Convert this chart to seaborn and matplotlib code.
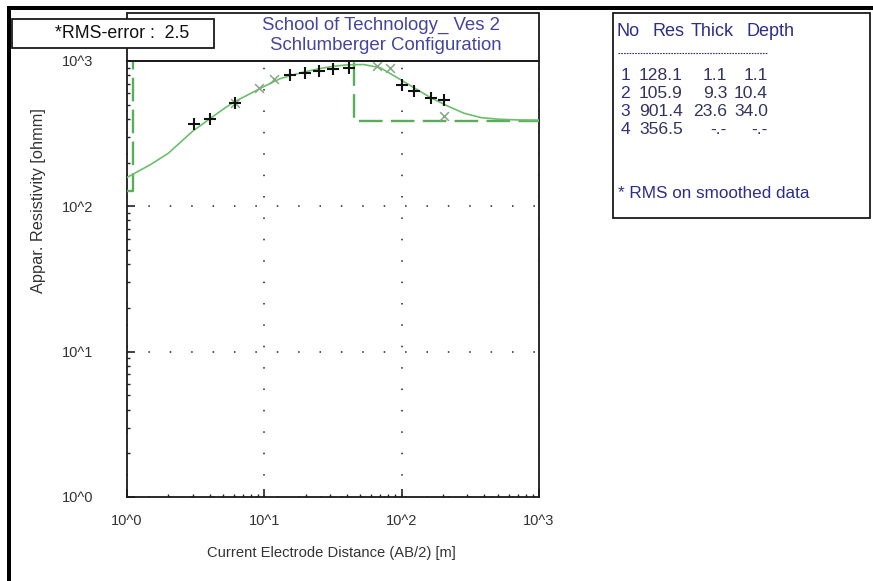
import numpy as np
import pandas as pd
import matplotlib
matplotlib.use("Agg")
import matplotlib.pyplot as plt
import seaborn as sns
from matplotlib import font_manager as fm
from matplotlib.patches import Rectangle
from matplotlib.lines import Line2D

# ---------------- data ----------------
curve_ab2 = [1.0, 1.5, 2.0, 3.0, 4.0, 5.0, 6.0, 8.0, 10, 13, 16, 20, 25, 32, 40, 53,
             70, 93, 123, 163, 216, 285, 377, 500, 700, 1000]
curve_rho = [158, 195, 232, 328, 400, 465, 522, 600, 670, 755, 800, 845, 885, 920, 940, 946,
             898, 767, 655, 559, 490, 437, 408, 398, 393, 392]

obs_ab2 = [3.05, 4.04, 6.14, 15.3, 19.9, 25.2, 31.5, 41.2, 100, 123, 163, 204]
obs_rho = [367, 397, 517, 797, 830, 853, 876, 898, 680, 621, 559, 537]

smooth_ab2 = [6.1, 9.1, 11.7, 66.4, 82.2, 204]
smooth_rho = [510, 655, 755, 923, 898, 419]

# block model as displayed (middle layer off-scale)
model_top = [1.0, 1.1, 45.0, 1000.0]
model_res = [128.1, 2000.0, 385.0, 385.0]

layer_no = ["1", "2", "3", "4"]
layer_res = ["128.1", "105.9", "901.4", "356.5"]
layer_thick = ["1.1", "9.3", "23.6", "-.-"]
layer_depth = ["1.1", "10.4", "34.0", "-.-"]

x_ticks = [1, 10, 100, 1000]
x_ticklabels = ["10^0", "10^1", "10^2", "10^3"]
y_ticks = [1, 10, 100, 1000]
y_ticklabels = ["10^0", "10^1", "10^2", "10^3"]

title1 = "School of Technology_ Ves 2"
title2 = "Schlumberger Configuration"
rms_text = "*RMS-error :  2.5"
xlabel = "Current Electrode Distance (AB/2) [m]"
ylabel = "Appar. Resistivity [ohmm]"
table_header = ["No", "Res", "Thick", "Depth"]
table_note = "* RMS on smoothed data"

# ---------------- fonts ----------------
def has_font(name):
    try:
        fm.findfont(fm.FontProperties(family=name), fallback_to_default=False)
        return True
    except Exception:
        return False

sns.set_theme(style="white")
if has_font("Liberation Sans Narrow"):
    FN, SC = "Liberation Sans Narrow", 1.0
else:
    FN, SC = "Liberation Sans", 0.84
FR = "Liberation Sans"
plt.rcParams["font.family"] = [FN, "DejaVu Sans"]

W, H = 873, 581
fig = plt.figure(figsize=(W / 100, H / 100), dpi=100, facecolor="white")


def fx(x):
    return x / W


def fy(y):
    return 1 - y / H


AX_L, AX_R, AX_T, AX_B = 127, 539, 61, 497
ax = fig.add_axes([fx(AX_L), fy(AX_B), (AX_R - AX_L) / W, (AX_B - AX_T) / H])
ax.set_facecolor("white")
ax.set_xscale("log")
ax.set_yscale("log")

df_curve = pd.DataFrame({"ab2": curve_ab2, "rho": curve_rho})
df_model = pd.DataFrame({"ab2": model_top, "rho": model_res})
df_obs = pd.DataFrame({"ab2": obs_ab2, "rho": obs_rho})
df_smooth = pd.DataFrame({"ab2": smooth_ab2, "rho": smooth_rho})

sns.lineplot(data=df_model, x="ab2", y="rho", ax=ax, color="#5aae5a", lw=1.7,
             drawstyle="steps-post", linestyle=(0, (10, 3.5)), sort=False, zorder=3)
sns.lineplot(data=df_curve, x="ab2", y="rho", ax=ax, color="#6cbf6c", lw=1.2,
             sort=False, zorder=4)
sns.scatterplot(data=df_smooth, x="ab2", y="rho", ax=ax, marker="x", s=40,
                color="#86a886", linewidth=1.1, zorder=5)
sns.scatterplot(data=df_obs, x="ab2", y="rho", ax=ax, marker="+", s=85,
                color="#111111", linewidth=1.5, zorder=6)

ax.set_xlim(1, 1000)
ax.set_ylim(1, 1000)
ax.set_xticks(x_ticks)
ax.set_xticklabels(x_ticklabels)
ax.set_yticks(y_ticks)
ax.set_yticklabels(y_ticklabels)
ax.xaxis.set_minor_locator(matplotlib.ticker.LogLocator(base=10, subs=np.arange(2, 10)))
ax.yaxis.set_minor_locator(matplotlib.ticker.LogLocator(base=10, subs=np.arange(2, 10)))
ax.xaxis.set_minor_formatter(matplotlib.ticker.NullFormatter())
ax.yaxis.set_minor_formatter(matplotlib.ticker.NullFormatter())

ax.tick_params(which="major", direction="in", length=6, width=1.2, color="#222222",
               labelsize=12.5 * SC, labelcolor="#333333", bottom=True, left=True,
               top=False, right=False)
ax.tick_params(axis="y", which="major", pad=24)
ax.tick_params(axis="x", which="major", pad=12)
ax.tick_params(which="minor", direction="in", length=2.5, width=1.0, color="#222222",
               bottom=True, left=True, top=False, right=False)

ax.grid(True, which="major", color="#222222", linestyle=(0, (1, 13)), linewidth=1.1)
ax.grid(False, which="minor")
for s in ax.spines.values():
    s.set_color("#1a1a1a")
    s.set_linewidth(1.3)

ax.set_xlabel(xlabel, fontsize=12.7 * SC, color="#333333")
ax.set_ylabel(ylabel, fontsize=14 * SC, color="#333333")
ax.xaxis.set_label_coords(0.497, -0.112)
ax.yaxis.set_label_coords(-0.197, 0.68)

# ---------------- frames ----------------
# thick screenshot borders
fig.add_artist(Rectangle((fx(7), fy(10)), fx(W - 7), 4 / H, transform=fig.transFigure,
                         facecolor="black", edgecolor="none", zorder=10))
fig.add_artist(Rectangle((fx(7), 0), 4 / W, fy(6), transform=fig.transFigure,
                         facecolor="black", edgecolor="none", zorder=10))
# title frame above axes
fig.add_artist(Rectangle((fx(AX_L), fy(AX_T)), (AX_R - AX_L) / W, (AX_T - 13) / H,
                         transform=fig.transFigure, facecolor="none",
                         edgecolor="#1a1a1a", lw=1.3, zorder=2))
# RMS box
fig.add_artist(Rectangle((fx(12), fy(48)), (214 - 12) / W, (48 - 19) / H,
                         transform=fig.transFigure, facecolor="white",
                         edgecolor="#1a1a1a", lw=1.3, zorder=8))
fig.text(fx(122), fy(34), rms_text, ha="center", va="center", fontsize=15.2 * SC,
         color="#111111", zorder=9)
# titles
tcol = "#45459e"
fig.text(fx(381), fy(25), title1, ha="center", va="center", fontsize=16 * SC, color=tcol)
fig.text(fx(386), fy(46), title2, ha="center", va="center", fontsize=16 * SC, color=tcol)

# table box
fig.add_artist(Rectangle((fx(613), fy(218)), (870 - 613) / W, (218 - 13) / H,
                         transform=fig.transFigure, facecolor="white",
                         edgecolor="#1a1a1a", lw=1.3, zorder=2))
hcol = "#2e2e88"
ncol = "#33335e"
hx = [617, 652, 691, 746]
for lab, x in zip(table_header, hx):
    fig.text(fx(x), fy(32), lab, ha="left", va="center", fontsize=13, color=hcol,
             family=[FR, "DejaVu Sans"], zorder=9)
fig.add_artist(Line2D([fx(618), fx(767)], [fy(53), fy(53)], transform=fig.transFigure,
                      color=ncol, lw=0.8, linestyle=(0, (1.5, 1)), zorder=9))
row_y = [76, 94, 112, 130]
cols = [(630, layer_no, hcol), (683, layer_res, ncol), (727, layer_thick, ncol),
        (768, layer_depth, ncol)]
for i, y in enumerate(row_y):
    for xr, vals, c in cols:
        fig.text(fx(xr), fy(y), vals[i], ha="right", va="center", fontsize=12.6, color=c,
                 family=[FR, "DejaVu Sans"], zorder=9)
fig.text(fx(618), fy(194), table_note, ha="left", va="center", fontsize=12.3, color=hcol,
         family=[FR, "DejaVu Sans"], zorder=9)

fig.savefig("out.png", dpi=100, facecolor="white")
